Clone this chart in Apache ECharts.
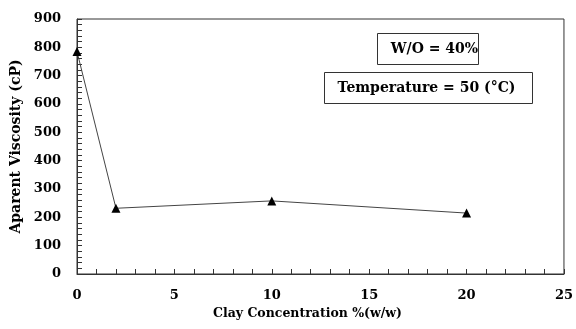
<!DOCTYPE html>
<html><head><meta charset="utf-8">
<script src="https://cdn.jsdelivr.net/npm/echarts@6/dist/echarts.min.js"></script>
<style>html,body{margin:0;padding:0;background:#fff}#c{width:576px;height:329px}</style>
</head><body><div id="c"></div>
<script>
const clayConc = [0, 2, 10, 20];
const viscosity = [785, 232, 258, 215];
const xTicks = [0, 5, 10, 15, 20, 25];
const yTicks = [0, 100, 200, 300, 400, 500, 600, 700, 800, 900];
const xTitle = 'Clay Concentration %(w/w)';
const yTitle = 'Aparent Viscosity (cP)';
const note1 = 'W/O = 40%';
const note2 = 'Temperature = 50 (°C)';

const FONT = 'DejaVu Serif';
const chart = echarts.init(document.getElementById('c'));
chart.setOption({
  animation: false,
  grid: {left: 77, right: 10, top: 19, bottom: 55, show: true, borderColor: '#333', borderWidth: 1, backgroundColor: 'transparent'},
  xAxis: {
    type: 'value', min: xTicks[0], max: xTicks[xTicks.length-1], interval: 5,
    name: xTitle, nameLocation: 'middle', nameGap: 32,
    nameTextStyle: {fontFamily: FONT, fontWeight: 'bold', fontSize: 12.5, color: '#000', padding: [0, 26, 0, 0]},
    axisLine: {lineStyle: {color: '#333', width: 1}},
    axisTick: {inside: true, length: 5, lineStyle: {color: '#333'}},
    minorTick: {show: true, splitNumber: 5, length: 5, lineStyle: {color: '#333'}},
    axisLabel: {fontFamily: FONT, fontWeight: 'bold', fontSize: 13, color: '#000', margin: 15},
    splitLine: {show: false}
  },
  yAxis: {
    type: 'value', min: yTicks[0], max: yTicks[yTicks.length-1], interval: 100,
    name: yTitle, nameLocation: 'middle', nameGap: 51, nameRotate: 90,
    nameTextStyle: {fontFamily: FONT, fontWeight: 'bold', fontSize: 14, color: '#000'},
    axisLine: {lineStyle: {color: '#333', width: 1}},
    axisTick: {inside: true, length: 5, lineStyle: {color: '#333'}},
    minorTick: {show: true, splitNumber: 5, length: 5, lineStyle: {color: '#333'}},
    axisLabel: {fontFamily: FONT, fontWeight: 'bold', fontSize: 13, color: '#000', margin: 16},
    splitLine: {show: false}
  },
  series: [{
    type: 'line',
    data: clayConc.map((x, i) => [x, viscosity[i]]),
    symbol: 'triangle', symbolSize: 9,
    itemStyle: {color: '#000'},
    lineStyle: {color: '#444', width: 1}
  }],
  graphic: [
    {type: 'group', left: 377, top: 33, children: [
      {type: 'rect', shape: {x: 0, y: 0, width: 101, height: 31}, style: {fill: '#fff', stroke: '#333', lineWidth: 1}},
      {type: 'text', style: {x: 57, y: 16, text: note1, align: 'center', verticalAlign: 'middle', fontFamily: FONT, fontWeight: 'bold', fontSize: 14, fill: '#000'}}
    ]},
    {type: 'group', left: 324, top: 72, children: [
      {type: 'rect', shape: {x: 0, y: 0, width: 208, height: 31}, style: {fill: '#fff', stroke: '#333', lineWidth: 1}},
      {type: 'text', style: {x: 102, y: 16, text: note2, align: 'center', verticalAlign: 'middle', fontFamily: FONT, fontWeight: 'bold', fontSize: 14, fill: '#000'}}
    ]}
  ]
});
</script></body></html>
